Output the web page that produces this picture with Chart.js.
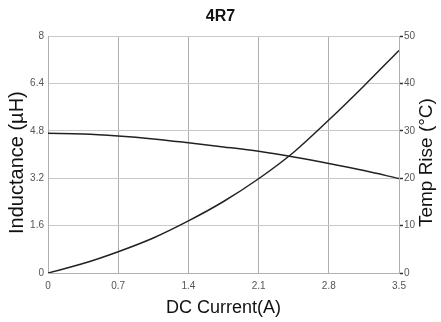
<!DOCTYPE html>
<html>
<head>
<meta charset="utf-8">
<script src="https://cdn.jsdelivr.net/npm/chart.js@4.4.1/dist/chart.umd.min.js"></script>
<style>
  html, body { margin: 0; padding: 0; background: #fff; }
  #wrap { width: 441px; height: 322px; }
</style>
</head>
<body>
<div id="wrap"><canvas id="line_chart" width="441" height="322"></canvas></div>
<script>
// DC current (A)
var current = [0, 0.35, 0.7, 1.05, 1.4, 1.75, 2.1, 2.45, 2.8, 3.15, 3.5];
// inductance (uH), left axis
var inductance = [4.72, 4.70, 4.63, 4.53, 4.40, 4.26, 4.11, 3.92, 3.70, 3.46, 3.19];
// temperature rise (C), right axis
var tempRise = [0, 2.0, 4.5, 7.4, 11.0, 15.1, 19.9, 25.5, 32.3, 39.5, 47.0];

var xTicks = [0, 0.7, 1.4, 2.1, 2.8, 3.5];
var leftTicks = [0, 1.6, 3.2, 4.8, 6.4, 8];
var rightTicks = [0, 10, 20, 30, 40, 50];

var FONT = "'Liberation Sans', Arial, sans-serif";

function points(xs, ys) {
    return xs.map(function (x, i) { return {x: x, y: ys[i]}; });
}

function fixTicks(list) {
    return function (scale) {
        scale.ticks = list.map(function (v) { return {value: v}; });
    };
}

// both y titles read bottom to top, so draw them by hand
var yTitles = {
    id: 'yTitles',
    afterDraw: function (chart) {
        var ctx = chart.ctx;
        var a = chart.chartArea;
        var cy = (a.top + a.bottom) / 2 + 8;
        ctx.save();
        ctx.fillStyle = '#111';
        ctx.textAlign = 'center';
        ctx.textBaseline = 'middle';
        ctx.translate(17, cy);
        ctx.rotate(-Math.PI / 2);
        ctx.font = '20px ' + FONT;
        ctx.fillText('Inductance (µH)', 0, 0);
        ctx.restore();
        ctx.save();
        ctx.fillStyle = '#111';
        ctx.textAlign = 'center';
        ctx.textBaseline = 'middle';
        ctx.translate(chart.width - 14, cy);
        ctx.rotate(-Math.PI / 2);
        ctx.font = '19px ' + FONT;
        ctx.fillText('Temp Rise (°C)', 0, 0);
        ctx.restore();
    }
};

new Chart(document.getElementById("line_chart").getContext("2d"), {
    type: 'line',
    data: {
        datasets: [{
            label: 'Inductance',
            data: points(current, inductance),
            yAxisID: 'yL',
            borderColor: '#222',
            borderWidth: 1.5,
            pointRadius: 0,
            cubicInterpolationMode: 'monotone',
            fill: false
        }, {
            label: 'Temp Rise',
            data: points(current, tempRise),
            yAxisID: 'yR',
            borderColor: '#222',
            borderWidth: 1.5,
            pointRadius: 0,
            cubicInterpolationMode: 'monotone',
            fill: false
        }]
    },
    plugins: [yTitles],
    options: {
        responsive: false,
        animation: false,
        layout: { padding: 0 },
        plugins: {
            legend: { display: false },
            tooltip: { enabled: false },
            title: {
                display: true,
                text: '4R7',
                color: '#111',
                font: { family: FONT, size: 16, weight: 'bold', lineHeight: 1.2 },
                padding: { top: 7, bottom: 10 }
            }
        },
        scales: {
            x: {
                type: 'linear',
                min: 0,
                max: 3.5,
                afterBuildTicks: fixTicks(xTicks),
                afterFit: function (s) { s.height = 49; },
                grid: { color: '#b0b0b0', drawTicks: false },
                border: { color: '#b0b0b0' },
                ticks: {
                    color: '#555',
                    padding: 7,
                    maxRotation: 0,
                    font: { family: FONT, size: 10 },
                    callback: function (v) { return String(v); }
                },
                title: {
                    display: true,
                    text: 'DC Current(A)',
                    color: '#111',
                    font: { family: FONT, size: 18, lineHeight: 1 },
                    padding: { top: 0, bottom: 5 }
                }
            },
            yL: {
                position: 'left',
                min: 0,
                max: 8,
                afterBuildTicks: fixTicks(leftTicks),
                afterFit: function (s) { s.width = 48; },
                grid: { color: '#c8c8c8', drawTicks: false },
                border: { color: '#b0b0b0' },
                ticks: {
                    color: '#555',
                    padding: 4,
                    font: { family: FONT, size: 10 },
                    callback: function (v) { return String(v); }
                }
            },
            yR: {
                position: 'right',
                min: 0,
                max: 50,
                afterBuildTicks: fixTicks(rightTicks),
                afterFit: function (s) { s.width = 42; },
                grid: { drawOnChartArea: false, tickLength: 4, tickColor: '#333', tickWidth: 1.5 },
                border: { color: '#b0b0b0' },
                ticks: {
                    color: '#555',
                    padding: 1,
                    font: { family: FONT, size: 10 }
                }
            }
        }
    }
});
</script>
</body>
</html>
